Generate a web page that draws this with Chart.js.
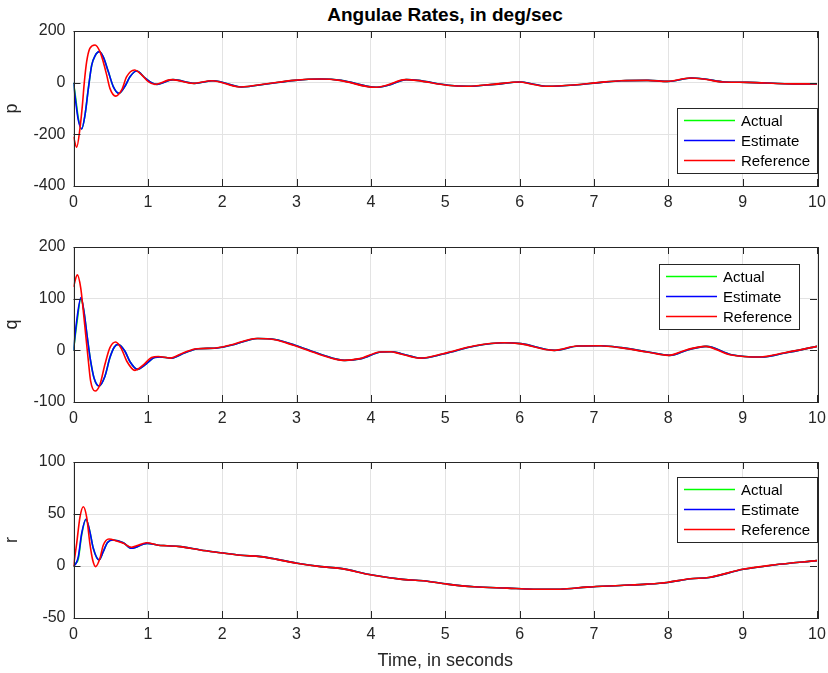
<!DOCTYPE html>
<html>
<head>
<meta charset="utf-8">
<script src="https://cdn.jsdelivr.net/npm/chart.js@4.4.1/dist/chart.umd.min.js"></script>
<style>
    body { margin: 0; background: #fff; width: 828px; height: 673px; position: relative; overflow: hidden; font-family: "Liberation Sans", Arial, sans-serif; }
    canvas { position: absolute; left: 0; }
    #titulo { position: absolute; top: 4px; left: 73px; width: 744px; text-align: center; font-weight: bold; font-size: 19px; color: #000; }
</style>
</head>
<body>
<div id="titulo">Angulae Rates, in deg/sec</div>
<canvas id="graficoP" width="828" height="215" style="top:0px"></canvas>
<canvas id="graficoQ" width="828" height="216" style="top:215px"></canvas>
<canvas id="graficoR" width="828" height="242" style="top:431px"></canvas>
<script>
// valores (tempo em s, taxa em deg/s)
const legendas = ["Actual", "Estimate", "Reference"];
const xTicks = [0, 1, 2, 3, 4, 5, 6, 7, 8, 9, 10];
const pTicks = [-400, -200, 0, 200];
const qTicks = [-100, 0, 100, 200];
const rTicks = [-50, 0, 50, 100];

// p
const pRefT = [0, 0.043, 0.087, 0.12, 0.145, 0.177, 0.22, 0.29, 0.356, 0.40, 0.446, 0.49, 0.567, 0.648, 0.715, 0.82, 0.917, 1.005, 1.095, 1.32, 1.61, 1.86, 2.24, 2.6, 2.96, 3.315, 3.58, 4.05, 4.21, 4.46, 4.61, 5.02, 5.29, 5.64, 6.0, 6.14, 6.36, 6.72, 7.08, 7.35, 7.71, 7.98, 8.29, 8.47, 8.74, 9.05, 9.55, 10];
const pRefV = [-209, -250, -177, -86, 0, 81, 133, 146, 120, 81, 30, -22, -52, -28, 23, 49, 30, 4, -6.5, 11.6, -2.6, 7.7, -16.8, -4, 9, 14, 9, -18, -10, 11.6, 9, -10, -14, -6.5, 2.6, -4, -14, -9, 1.3, 7.7, 9, 5, 18, 14, 2.6, 1.3, -4, -5];
const pEstT = [0, 0.03, 0.065, 0.11, 0.155, 0.2, 0.245, 0.29, 0.347, 0.40, 0.468, 0.535, 0.61, 0.69, 0.76, 0.85, 0.96, 1.05, 1.12, 1.34, 1.63, 1.88, 2.26, 2.62, 2.98, 3.33, 3.6, 4.07, 4.23, 4.48, 4.63, 5.04, 5.31, 5.66, 6.02, 6.16, 6.38, 6.74, 7.1, 7.37, 7.73, 8.0, 8.31, 8.49, 8.76, 9.07, 9.57, 10];
const pEstV = [0, -74, -145, -179, -125, -22, 68, 104, 120, 100, 43, -15, -41, -15, 23, 45, 19, 0, -6.5, 11.6, -2.6, 7.7, -16.8, -4, 9, 14, 9, -18, -10, 11.6, 9, -10, -14, -6.5, 2.6, -4, -14, -9, 1.3, 7.7, 9, 5, 18, 14, 2.6, 1.3, -4, -5];
const pActV = [0, -62, -138, -179, -125, -22, 68, 104, 120, 100, 43, -15, -41, -15, 23, 45, 19, 0, -6.5, 11.6, -2.6, 7.7, -16.8, -4, 9, 14, 9, -18, -10, 11.6, 9, -10, -14, -6.5, 2.6, -4, -14, -9, 1.3, 7.7, 9, 5, 18, 14, 2.6, 1.3, -4, -5];

// q
const qRefT = [0, 0.051, 0.097, 0.132, 0.168, 0.2, 0.23, 0.29, 0.356, 0.423, 0.49, 0.567, 0.648, 0.715, 0.827, 0.94, 1.05, 1.14, 1.30, 1.48, 1.66, 1.88, 2.1, 2.46, 2.69, 2.96, 3.32, 3.63, 3.85, 4.12, 4.26, 4.39, 4.66, 4.97, 5.38, 5.78, 6.0, 6.45, 6.77, 7.08, 7.35, 7.71, 8.0, 8.25, 8.49, 8.83, 9.23, 9.55, 10];
const qRefV = [122.6, 146, 121, 76, 24.5, -20.6, -59, -78.7, -66, -27, 5.2, 16, 2, -20.6, -38.7, -28, -14, -12, -15, -4.5, 3.2, 4, 9.7, 23, 21, 9.7, -8.4, -19.4, -16, -3.2, -2.6, -6.5, -15, -6.5, 8.4, 14.8, 13, 0, 8.4, 9, 5.2, -3.2, -9.7, 1.3, 7.7, -8.4, -13, -5.2, 7.7];
const qEstT = [0, 0.043, 0.1, 0.14, 0.186, 0.23, 0.275, 0.343, 0.423, 0.49, 0.55, 0.60, 0.69, 0.76, 0.86, 0.98, 1.09, 1.16, 1.32, 1.50, 1.68, 1.9, 2.12, 2.48, 2.71, 2.98, 3.34, 3.65, 3.87, 4.14, 4.28, 4.41, 4.68, 4.99, 5.4, 5.8, 6.02, 6.47, 6.79, 7.1, 7.37, 7.73, 8.02, 8.27, 8.51, 8.85, 9.25, 9.57, 10];
const qEstV = [0, 57, 102, 76, 24.5, -20.6, -53, -69, -50, -14, 6.5, 11.6, -1.3, -22, -36.8, -26, -14, -13, -15, -4.5, 3.2, 4, 9.7, 23, 21, 9.7, -8.4, -19.4, -16, -3.2, -2.6, -6.5, -15, -6.5, 8.4, 14.8, 13, 0, 8.4, 9, 5.2, -3.2, -9.7, 1.3, 7.7, -8.4, -13, -5.2, 7.7];
const qActV = [0, 50, 100, 76, 24.5, -20.6, -53, -69, -50, -14, 6.5, 11.6, -1.3, -22, -36.8, -26, -14, -13, -15, -4.5, 3.2, 4, 9.7, 23, 21, 9.7, -8.4, -19.4, -16, -3.2, -2.6, -6.5, -15, -6.5, 8.4, 14.8, 13, 0, 8.4, 9, 5.2, -3.2, -9.7, 1.3, 7.7, -8.4, -13, -5.2, 7.7];

// r
const rRefT = [0, 0.043, 0.087, 0.132, 0.177, 0.22, 0.258, 0.298, 0.356, 0.40, 0.477, 0.58, 0.67, 0.78, 0.87, 0.98, 1.14, 1.25, 1.43, 1.70, 1.97, 2.24, 2.51, 2.73, 3.0, 3.32, 3.58, 4.01, 4.39, 4.70, 5.02, 5.38, 5.83, 6.18, 6.54, 6.90, 7.35, 7.71, 7.98, 8.29, 8.54, 9.0, 9.41, 10];
const rRefV = [0, 21.8, 47, 57, 47, 21.8, 5.8, -0.6, 7.4, 20, 26, 24, 21.8, 18, 20, 22.4, 20, 19.5, 18.6, 15.4, 12.8, 10.3, 9, 6.4, 2.6, -0.6, -2.3, -8.7, -12.6, -14.2, -17.4, -20, -21.3, -22.3, -22.3, -20.3, -18.7, -17.4, -15.8, -12.3, -11, -3.2, 1, 5.2];
const rEstT = [0, 0.03, 0.065, 0.11, 0.168, 0.22, 0.266, 0.343, 0.40, 0.455, 0.535, 0.67, 0.78, 0.99, 1.14, 1.26, 1.44, 1.71, 1.98, 2.25, 2.52, 2.74, 3.01, 3.33, 3.59, 4.02, 4.4, 4.71, 5.03, 5.39, 5.84, 6.19, 6.55, 6.91, 7.36, 7.72, 7.99, 8.3, 8.55, 9.01, 9.42, 10];
const rEstV = [0, 2, 9, 31.4, 45, 33, 17, 5.8, 13.8, 22.4, 25, 22.4, 17, 21.8, 20, 19.5, 18.6, 15.4, 12.8, 10.3, 9, 6.4, 2.6, -0.6, -2.3, -8.7, -12.6, -14.2, -17.4, -20, -21.3, -22.3, -22.3, -20.3, -18.7, -17.4, -15.8, -12.3, -11, -3.2, 1, 5.2];
const rActV = [0, 2.5, 7, 30, 45, 33, 17, 5.8, 13.8, 22.4, 25, 22.4, 17, 21.8, 20, 19.5, 18.6, 15.4, 12.8, 10.3, 9, 6.4, 2.6, -0.6, -2.3, -8.7, -12.6, -14.2, -17.4, -20, -21.3, -22.3, -22.3, -20.3, -18.7, -17.4, -15.8, -12.3, -11, -3.2, 1, 5.2];

const corEixo = "#262626";
const cores = ["#00ff00", "#0000ff", "#ff0000"];
const fonte = "'Liberation Sans', Arial, sans-serif";

function pontos(t, v) {
    return t.map((x, i) => ({ x: x, y: v[i] }));
}

// caixa do eixo com ticks para dentro + legenda dentro do grafico
const moldura = {
    id: "moldura",
    afterDraw(chart, args, opts) {
        const ctx = chart.ctx;
        const a = chart.chartArea;
        const xs = chart.scales.x;
        const ys = chart.scales.y;
        ctx.save();
        ctx.strokeStyle = corEixo;
        ctx.lineWidth = 1;
        ctx.beginPath();
        xs.ticks.forEach(t => {
            let px = Math.round(xs.getPixelForValue(t.value)) + 0.5;
            ctx.moveTo(px, a.bottom); ctx.lineTo(px, a.bottom - 7);
            ctx.moveTo(px, a.top); ctx.lineTo(px, a.top + 7);
        });
        ys.ticks.forEach(t => {
            let py = Math.round(ys.getPixelForValue(t.value)) + 0.5;
            ctx.moveTo(a.left, py); ctx.lineTo(a.left + 7, py);
            ctx.moveTo(a.right, py); ctx.lineTo(a.right - 7, py);
        });
        ctx.stroke();
        ctx.strokeRect(Math.round(a.left) + 0.5, Math.round(a.top) + 0.5, Math.round(a.right - a.left), Math.round(a.bottom - a.top));

        // legenda
        let lx = opts.x, ly = opts.y;
        ctx.fillStyle = "#fff";
        ctx.fillRect(lx, ly, 140, 65);
        ctx.strokeRect(lx + 0.5, ly + 0.5, 140, 65);
        ctx.font = "15px " + fonte;
        ctx.textBaseline = "middle";
        ctx.textAlign = "left";
        ctx.lineWidth = 1.6;
        legendas.forEach((nome, i) => {
            let yy = ly + 12.5 + i * 20;
            ctx.strokeStyle = cores[i];
            ctx.beginPath();
            ctx.moveTo(lx + 7, yy); ctx.lineTo(lx + 58, yy);
            ctx.stroke();
            ctx.fillStyle = "#000";
            ctx.fillText(nome, lx + 64, yy + 1);
        });
        ctx.restore();
    }
};

function criarGrafico(id, series, ticksY, rotulo, topo, alturaX, tituloX, legenda) {
    let datasets = series.map((s, i) => ({
        label: legendas[i],
        data: s,
        borderColor: cores[i],
        borderWidth: 1.6,
        pointRadius: 0,
        fill: false,
        cubicInterpolationMode: "monotone",
        order: 3 - i
    }));

    new Chart(document.getElementById(id), {
        type: "line",
        data: { datasets: datasets },
        plugins: [moldura],
        options: {
            responsive: false,
            animation: false,
            events: [],
            layout: { padding: { top: topo, right: 11, left: 0, bottom: 0 } },
            plugins: {
                legend: { display: false },
                tooltip: { enabled: false },
                moldura: legenda
            },
            scales: {
                x: {
                    type: "linear",
                    min: xTicks[0],
                    max: xTicks[xTicks.length - 1],
                    afterBuildTicks: s => { s.ticks = xTicks.map(v => ({ value: v })); },
                    afterFit: s => { s.height = alturaX; s.paddingRight = 0; s.paddingLeft = 0; },
                    grid: { color: "#e3e3e3", drawTicks: false },
                    border: { display: false },
                    ticks: { color: corEixo, font: { size: 16, family: fonte }, padding: 7, maxRotation: 0 },
                    title: {
                        display: tituloX,
                        text: "Time, in seconds",
                        color: corEixo,
                        font: { size: 18, family: fonte },
                        padding: { top: 0, bottom: 1 }
                    }
                },
                y: {
                    min: ticksY[0],
                    max: ticksY[ticksY.length - 1],
                    afterBuildTicks: s => { s.ticks = ticksY.map(v => ({ value: v })); },
                    afterFit: s => { s.width = 73.5; s.paddingTop = 0; s.paddingBottom = 0; },
                    grid: { color: "#e3e3e3", drawTicks: false },
                    border: { display: false },
                    ticks: { color: corEixo, font: { size: 16, family: fonte }, padding: 8 },
                    title: {
                        display: true,
                        text: rotulo,
                        color: corEixo,
                        font: { size: 18, family: fonte },
                        padding: { top: 1, bottom: 0 }
                    }
                }
            }
        }
    });
}

criarGrafico("graficoP", [pontos(pEstT, pActV), pontos(pEstT, pEstV), pontos(pRefT, pRefV)], pTicks, "p", 31, 29, false, { x: 677, y: 108 });
criarGrafico("graficoQ", [pontos(qEstT, qActV), pontos(qEstT, qEstV), pontos(qRefT, qRefV)], qTicks, "q", 32, 29, false, { x: 659, y: 49 });
criarGrafico("graficoR", [pontos(rEstT, rActV), pontos(rEstT, rEstV), pontos(rRefT, rRefV)], rTicks, "r", 31, 55, true, { x: 677, y: 46 });
</script>
</body>
</html>
